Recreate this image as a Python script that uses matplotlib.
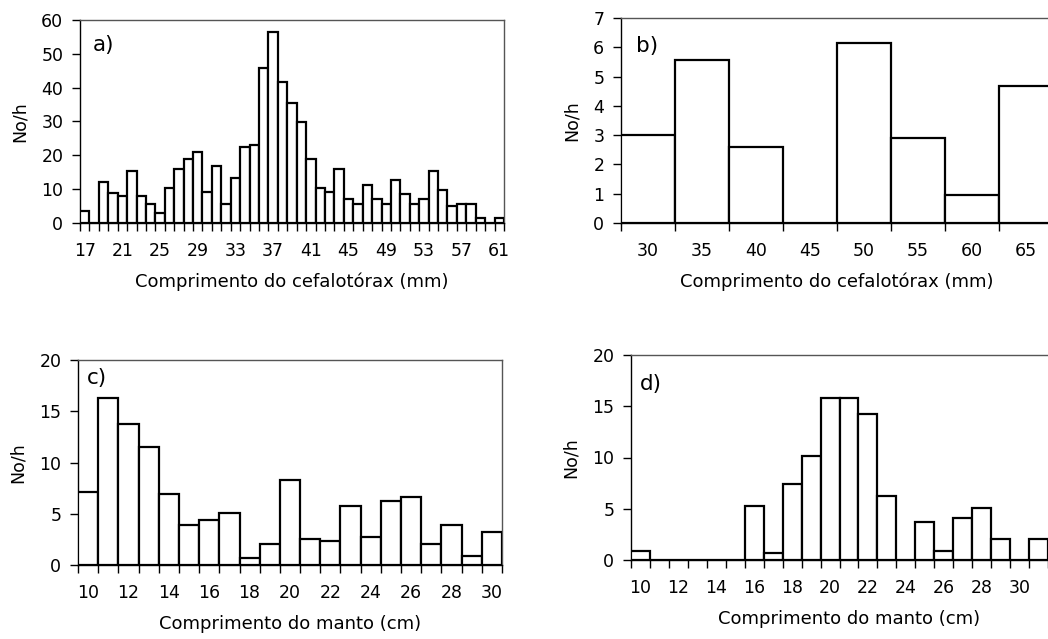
import numpy as np
import matplotlib
matplotlib.use("Agg")
import matplotlib.pyplot as plt

plt.rcParams['font.family'] = ['DejaVu Sans']

# Panel a
a_cats = list(range(17, 62))
a_vals = [3.5, 0, 12, 9, 7.9, 15.4, 7.9, 5.7, 2.9, 10.4, 16, 18.9, 20.9, 9.1, 16.9,
          5.7, 13.3, 22.4, 23.1, 45.9, 56.4, 41.8, 35.6, 29.9, 18.9, 10.4, 9.1, 16,
          7.1, 5.7, 11.3, 7.1, 5.7, 12.6, 8.5, 5.7, 7.1, 15.4, 9.8, 4.9, 5.7, 5.7,
          1.4, 0, 1.4]
a_labels = list(range(17, 62, 4))

# Panel b
b_cats = [30, 35, 40, 45, 50, 55, 60, 65]
b_vals = [3.0, 5.57, 2.6, 0, 6.13, 2.91, 0.97, 4.68]
b_labels = [30, 35, 40, 45, 50, 55, 60, 65]

# Panel c
c_cats = list(range(10, 31))
c_vals = [7.1, 16.3, 13.8, 11.5, 6.9, 3.9, 4.35, 5.06, 0.68, 2.08, 8.28, 2.53,
          2.34, 5.75, 2.76, 6.2, 6.66, 2.08, 3.9, 0.91, 3.21]
c_labels = list(range(10, 31, 2))

# Panel d
d_cats = list(range(10, 32))
d_vals = [0.91, 0, 0, 0, 0, 0, 5.26, 0.68, 7.37, 10.1, 15.8, 15.8, 14.2, 6.2, 0,
          3.7, 0.91, 4.1, 5.03, 2.05, 0, 2.05]
d_labels = list(range(10, 31, 2))

W, H = 1048, 639
fig = plt.figure(figsize=(W / 100, H / 100), dpi=100)


def px_axes(left, top, right, bottom):
    return fig.add_axes([left / W, 1 - bottom / H, (right - left) / W, (bottom - top) / H])


def style(ax, cats, vals, width, labels, xlim, ylim, yticks, letter, xlabel, letter_pos):
    ax.bar(cats, vals, width=width, facecolor='white', edgecolor='black',
           linewidth=1.6, align='center', zorder=3)
    ax.set_xlim(*xlim)
    ax.set_ylim(*ylim)
    ax.set_yticks(yticks)
    edges = np.arange(xlim[0], xlim[1] + width * 0.01, width)
    ax.set_xticks(edges)
    ax.set_xticklabels([])
    ax.set_xticks(labels, minor=True)
    ax.set_xticklabels([str(v) for v in labels], minor=True)
    ax.tick_params(axis='x', which='minor', length=0, pad=14, labelsize=12.5)
    ax.tick_params(axis='x', which='major', length=6, width=1, direction='out')
    ax.tick_params(axis='y', length=6, width=1, direction='out', labelsize=12.5, pad=6)
    for s in ['left', 'bottom']:
        ax.spines[s].set_linewidth(1.0)
        ax.spines[s].set_color('black')
    for s in ['top', 'right']:
        ax.spines[s].set_linewidth(1.0)
        ax.spines[s].set_color('#555555')
    ax.set_ylabel('No/h', fontsize=12.5, labelpad=9)
    ax.set_xlabel(xlabel, fontsize=13, labelpad=9)
    ax.text(letter_pos[0], letter_pos[1], letter, transform=ax.transAxes, fontsize=15.5,
            ha='left', va='center')


ax_a = px_axes(80, 20, 504, 223)
style(ax_a, a_cats, a_vals, 1, a_labels, (16.5, 61.5), (0, 60), range(0, 61, 10),
      'a)', 'Comprimento do cefalotórax (mm)', (0.03, 0.875))

ax_b = px_axes(621, 18, 1053, 223)
style(ax_b, b_cats, b_vals, 5, b_labels, (27.5, 67.5), (0, 7), range(0, 8),
      'b)', 'Comprimento do cefalotórax (mm)', (0.035, 0.865))

ax_c = px_axes(78, 360, 502, 565)
style(ax_c, c_cats, c_vals, 1, c_labels, (9.5, 30.5), (0, 20), range(0, 21, 5),
      'c)', 'Comprimento do manto (cm)', (0.02, 0.91))

ax_d = px_axes(631, 355, 1067, 560)
style(ax_d, d_cats, d_vals, 1, d_labels, (9.5, 32.5), (0, 20), range(0, 21, 5),
      'd)', 'Comprimento do manto (cm)', (0.02, 0.86))

fig.savefig('out.png', dpi=100)
